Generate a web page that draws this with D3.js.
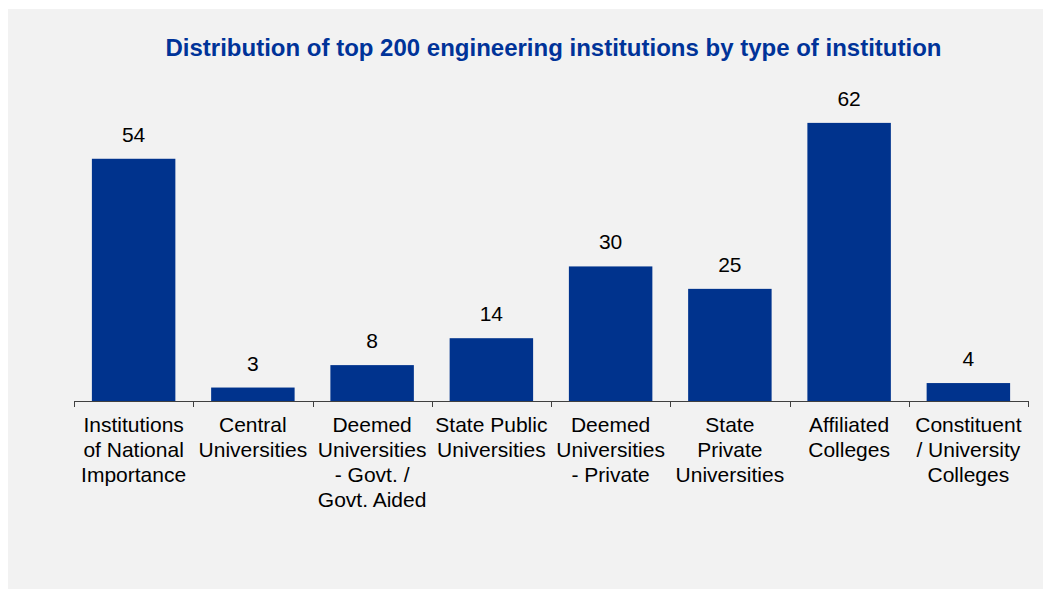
<!DOCTYPE html>
<html><head><meta charset="utf-8">
<script src="https://cdn.jsdelivr.net/npm/d3@7"></script>
<style>
html,body{margin:0;padding:0;background:#fff;}
svg{display:block;font-family:"Liberation Sans",Arial,sans-serif;}
</style></head>
<body>
<svg id="chart" width="1043" height="589"></svg>
<script>
const title = "Distribution of top 200 engineering institutions by type of institution";
const categories = [
  "Institutions\nof National\nImportance",
  "Central\nUniversities",
  "Deemed\nUniversities\n- Govt. /\nGovt. Aided",
  "State Public\nUniversities",
  "Deemed\nUniversities\n- Private",
  "State\nPrivate\nUniversities",
  "Affiliated\nColleges",
  "Constituent\n/ University\nColleges"
];
const values = [54, 3, 8, 14, 30, 25, 62, 4];

const svg = d3.select("#chart");
svg.append("rect").attr("x", 8).attr("y", 9).attr("width", 1035).attr("height", 580).attr("fill", "#f2f2f2");

svg.append("text").attr("x", 553.5).attr("y", 56).attr("text-anchor", "middle")
  .attr("font-size", 24).attr("font-weight", "bold").attr("fill", "#003399").text(title);

const x = d3.scaleBand().domain(categories).range([74, 1028]).paddingInner(0.3).paddingOuter(0.15);
const y = d3.scaleLinear().domain([0, 70]).range([401, 87]);

svg.selectAll("rect.bar").data(values).join("rect").attr("class", "bar")
  .attr("x", (d, i) => x(categories[i]))
  .attr("width", x.bandwidth())
  .attr("y", d => y(d))
  .attr("height", d => y(0) - y(d))
  .attr("fill", "#00338D");

svg.selectAll("text.val").data(values).join("text").attr("class", "val")
  .attr("x", (d, i) => x(categories[i]) + x.bandwidth() / 2)
  .attr("y", d => y(d) - 17)
  .attr("text-anchor", "middle").attr("font-size", 21).attr("fill", "#000")
  .text(d => d);

// axis line and boundary ticks
const step = x.step();
const x0 = 74;
svg.append("line").attr("x1", x0).attr("x2", 1028).attr("y1", y(0) + 0.5).attr("y2", y(0) + 0.5)
  .attr("stroke", "#404040").attr("stroke-width", 1);
svg.selectAll("line.tick").data(d3.range(categories.length + 1)).join("line").attr("class", "tick")
  .attr("x1", i => Math.round(x0 + i * step) + 0.5).attr("x2", i => Math.round(x0 + i * step) + 0.5)
  .attr("y1", y(0)).attr("y2", y(0) + 6)
  .attr("stroke", "#404040").attr("stroke-width", 1);

const lab = svg.selectAll("text.cat").data(categories).join("text").attr("class", "cat")
  .attr("text-anchor", "middle").attr("font-size", 21).attr("fill", "#000");
lab.each(function(c) {
  const t = d3.select(this);
  c.split("\n").forEach((line, j) => {
    t.append("tspan").attr("x", x(c) + x.bandwidth() / 2).attr("y", 432 + j * 25).text(line);
  });
});
</script>
</body></html>
